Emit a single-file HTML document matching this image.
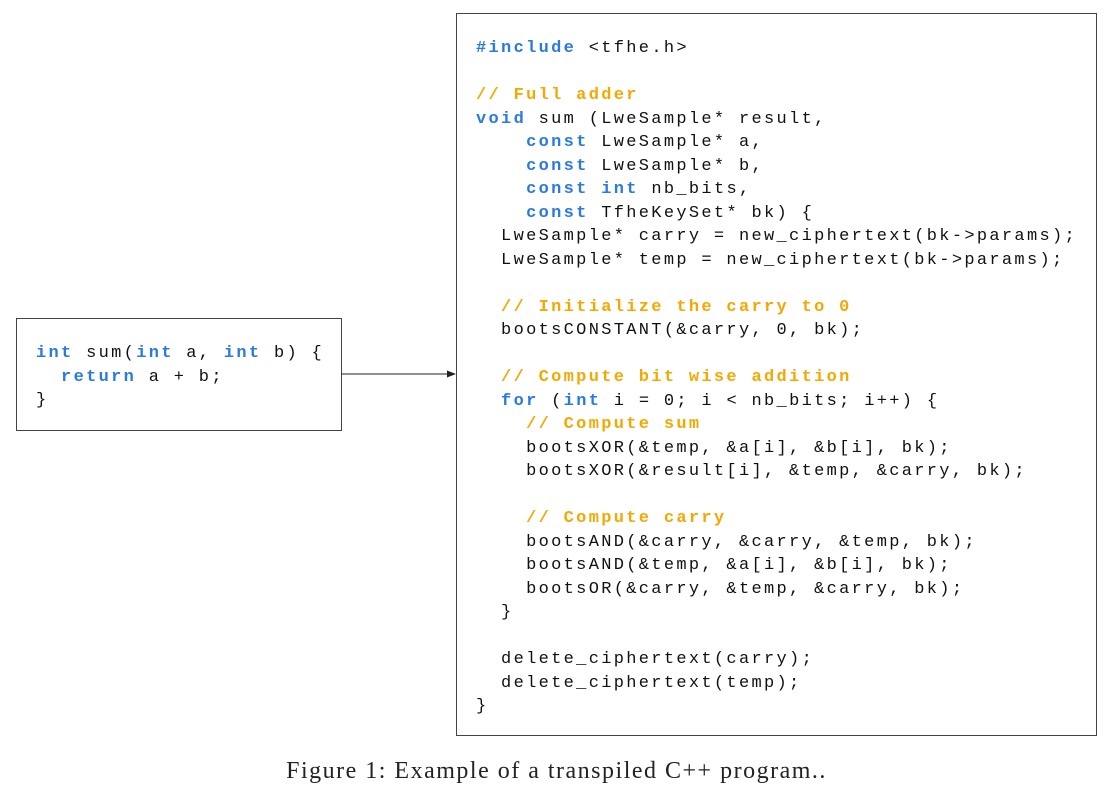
<!DOCTYPE html>
<html><head><meta charset="utf-8"><style>
body{margin:0;width:1113px;height:803px;background:#fff;position:relative;overflow:hidden}
.box{position:absolute;border:1px solid #444;box-sizing:border-box}
pre{position:absolute;margin:0;font-family:"Liberation Mono",monospace;font-size:17px;letter-spacing:2.32px;line-height:23.5px;color:#111}
.k{color:#2a7ae2;font-weight:bold}
.c{color:#f5a800;font-weight:bold}
.cap{position:absolute;top:758px;left:0;width:1113px;text-align:center;font-family:"Liberation Serif",serif;font-size:24px;letter-spacing:1.5px;color:#222}
</style></head><body>
<div class="box" style="left:456px;top:13px;width:641px;height:723px"></div>
<div class="box" style="left:16px;top:318px;width:326px;height:113px"></div>
<svg style="position:absolute;left:0;top:0" width="1113" height="803">
<line x1="341" y1="374" x2="449" y2="374" stroke="#222" stroke-width="1"/>
<polygon points="456,374 447,370.5 447,377.5" fill="#222"/>
</svg>
<pre style="left:36px;top:342px"><span class="k">int</span> sum(<span class="k">int</span> a, <span class="k">int</span> b) {
  <span class="k">return</span> a + b;
}</pre>
<pre style="left:476px;top:37px"><span class="k">#include</span> &lt;tfhe.h&gt;

<span class="c">// Full adder</span>
<span class="k">void</span> sum (LweSample* result,
    <span class="k">const</span> LweSample* a,
    <span class="k">const</span> LweSample* b,
    <span class="k">const</span> <span class="k">int</span> nb_bits,
    <span class="k">const</span> TfheKeySet* bk) {
  LweSample* carry = new_ciphertext(bk-&gt;params);
  LweSample* temp = new_ciphertext(bk-&gt;params);

  <span class="c">// Initialize the carry to 0</span>
  bootsCONSTANT(&amp;carry, 0, bk);

  <span class="c">// Compute bit wise addition</span>
  <span class="k">for</span> (<span class="k">int</span> i = 0; i &lt; nb_bits; i++) {
    <span class="c">// Compute sum</span>
    bootsXOR(&amp;temp, &amp;a[i], &amp;b[i], bk);
    bootsXOR(&amp;result[i], &amp;temp, &amp;carry, bk);

    <span class="c">// Compute carry</span>
    bootsAND(&amp;carry, &amp;carry, &amp;temp, bk);
    bootsAND(&amp;temp, &amp;a[i], &amp;b[i], bk);
    bootsOR(&amp;carry, &amp;temp, &amp;carry, bk);
  }

  delete_ciphertext(carry);
  delete_ciphertext(temp);
}</pre>
<div class="cap">Figure 1: Example of a transpiled C++ program..</div>
</body></html>
